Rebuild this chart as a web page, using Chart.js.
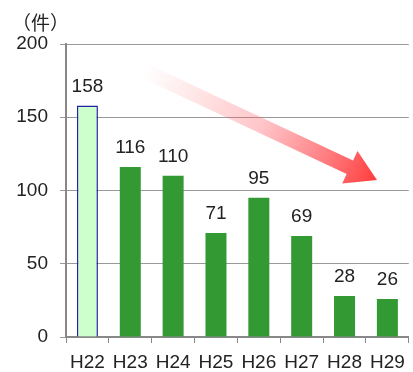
<!DOCTYPE html>
<html>
<head>
<meta charset="utf-8">
<script src="https://cdn.jsdelivr.net/npm/chart.js@4"></script>
<style>
  html, body { margin: 0; padding: 0; background: #fff; }
  #wrap { width: 413px; height: 372px; }
</style>
</head>
<body>
<div id="wrap"><canvas id="caseChart" width="413" height="372"></canvas></div>
<script>
const years = ['H22', 'H23', 'H24', 'H25', 'H26', 'H27', 'H28', 'H29'];
const cases = [158, 116, 110, 71, 95, 69, 28, 26];
const unitLabel = '（件）';

const fontFamily = '"Liberation Sans", "DejaVu Sans", sans-serif';
const cjkFont = '"Noto Sans CJK JP", sans-serif';
const barColors = cases.map((v, i) => i === 0 ? '#ccffcc' : '#339933');
const borderColors = cases.map((v, i) => i === 0 ? '#2222aa' : '#339933');

// value labels above bars
const valueLabels = {
    id: 'valueLabels',
    afterDatasetsDraw(chart) {
        const ctx = chart.ctx;
        const meta = chart.getDatasetMeta(0);
        ctx.save();
        ctx.font = '19px ' + fontFamily;
        ctx.fillStyle = '#222';
        ctx.textAlign = 'center';
        ctx.textBaseline = 'alphabetic';
        meta.data.forEach((bar, i) => {
            ctx.fillText(cases[i], bar.x, bar.y - 14);
        });
        ctx.restore();
    }
};

// unit text and the decreasing-trend arrow
const decorations = {
    id: 'decorations',
    afterDraw(chart) {
        const ctx = chart.ctx;
        const area = chart.chartArea;
        ctx.save();
        ctx.font = '19px ' + cjkFont;
        ctx.fillStyle = '#222';
        ctx.textAlign = 'left';
        ctx.textBaseline = 'middle';
        ctx.fillText(unitLabel, 12, 23);

        // arrow from upper left to lower right
        const x0 = area.left + 79, y0 = area.top + 27;
        const x1 = area.left + 311, y1 = area.top + 136;
        const ang = Math.atan2(y1 - y0, x1 - x0);
        const len = Math.hypot(x1 - x0, y1 - y0);
        const shaft = 7.5, head = 18, headLen = 30;
        ctx.translate(x0, y0);
        ctx.rotate(ang);
        const grad = ctx.createLinearGradient(0, 0, len, 0);
        grad.addColorStop(0, 'rgba(255,90,90,0)');
        grad.addColorStop(0.5, 'rgba(255,90,100,0.35)');
        grad.addColorStop(1, 'rgba(255,60,60,1)');
        ctx.fillStyle = grad;
        ctx.beginPath();
        ctx.moveTo(0, -shaft);
        ctx.lineTo(len - headLen, -shaft);
        ctx.lineTo(len - headLen, -head);
        ctx.lineTo(len, 0);
        ctx.lineTo(len - headLen, head);
        ctx.lineTo(len - headLen, shaft);
        ctx.lineTo(0, shaft);
        ctx.closePath();
        ctx.fill();
        ctx.restore();
    }
};

new Chart(document.getElementById('caseChart'), {
    type: 'bar',
    data: {
        labels: years,
        datasets: [{
            data: cases,
            backgroundColor: barColors,
            borderColor: borderColors,
            borderWidth: cases.map((v, i) => i === 0 ? 1.5 : 0),
            barPercentage: 0.49,
            categoryPercentage: 1
        }]
    },
    options: {
        responsive: false,
        animation: false,
        layout: { padding: { top: 44, right: 3, left: 0, bottom: 0 } },
        plugins: {
            legend: { display: false },
            tooltip: { enabled: false }
        },
        scales: {
            x: {
                grid: {
                    display: true,
                    drawOnChartArea: false,
                    offset: true,
                    color: '#888',
                    tickLength: 6
                },
                border: { color: '#888', width: 2 },
                ticks: {
                    color: '#222',
                    font: { family: fontFamily, size: 19 },
                    padding: 8
                },
                afterFit(scale) { scale.height = 35; }
            },
            y: {
                min: 0,
                max: 200,
                grid: { color: '#999', lineWidth: 1, tickLength: 6 },
                border: { color: '#888', width: 2 },
                ticks: {
                    stepSize: 50,
                    color: '#222',
                    font: { family: fontFamily, size: 19 },
                    padding: 12
                },
                afterFit(scale) { scale.width = 66; }
            }
        }
    },
    plugins: [valueLabels, decorations]
});
</script>
</body>
</html>
